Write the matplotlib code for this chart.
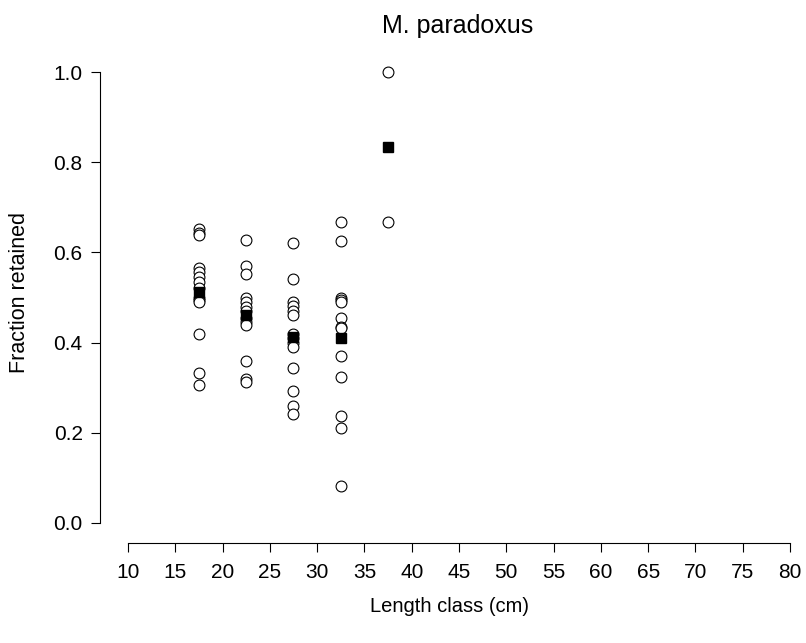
import matplotlib
matplotlib.use("Agg")
import matplotlib.pyplot as plt

# fraction retained per haul, by length class (cm)
len_15_20 = [0.652, 0.643, 0.638, 0.565, 0.556, 0.546, 0.534, 0.52, 0.50, 0.495, 0.49, 0.42, 0.333, 0.306]
len_20_25 = [0.627, 0.570, 0.553, 0.50, 0.49, 0.478, 0.47, 0.455, 0.445, 0.44, 0.36, 0.32, 0.312]
len_25_30 = [0.62, 0.54, 0.49, 0.482, 0.47, 0.462, 0.42, 0.41, 0.40, 0.39, 0.344, 0.293, 0.26, 0.242]
len_30_35 = [0.667, 0.625, 0.50, 0.495, 0.49, 0.455, 0.435, 0.432, 0.37, 0.323, 0.238, 0.21, 0.083]
len_35_40 = [1.0, 0.667]

class_mid = [17.5, 22.5, 27.5, 32.5, 37.5]
class_mean = [0.513, 0.462, 0.413, 0.41, 0.833]
groups = [len_15_20, len_20_25, len_25_30, len_30_35, len_35_40]

xticks = list(range(10, 85, 5))
yticks = [0.0, 0.2, 0.4, 0.6, 0.8, 1.0]

plt.rcParams['font.family'] = ['Liberation Sans', 'DejaVu Sans']

fig = plt.figure(figsize=(8.06, 6.43), dpi=100)
ax = fig.add_axes([100/806, 102/643, 706/806, 487/643])

for xm, vals in zip(class_mid, groups):
    ax.plot([xm]*len(vals), vals, linestyle='none', marker='o', markersize=7.8,
            markerfacecolor='white', markeredgecolor='black', markeredgewidth=0.8)
ax.plot(class_mid, class_mean, linestyle='none', marker='s', markersize=7.5,
        color='black')

ax.set_xlim(10 - 28/9.46, 80 + 16/9.46)
ax.set_ylim(-0.04, 1.04)

for s in ['top', 'right']:
    ax.spines[s].set_visible(False)
ax.spines['bottom'].set_bounds(10, 80)
ax.spines['left'].set_bounds(0, 1)
ax.spines['bottom'].set_position(('outward', 1.5))
ax.spines['bottom'].set_linewidth(0.8)
ax.spines['left'].set_linewidth(0.8)

ax.set_xticks(xticks)
ax.set_xticklabels([str(t) for t in xticks])
ax.set_yticks(yticks)
ax.set_yticklabels(['%.1f' % t for t in yticks])
ax.tick_params(axis='both', direction='out', length=6.5, width=0.8, labelsize=15)
ax.tick_params(axis='x', pad=8)
ax.tick_params(axis='y', pad=6)

ax.set_xlabel('Length class (cm)', fontsize=14.5)
ax.xaxis.set_label_coords((450 - 100)/706, -(607 - 541)/487)
ax.xaxis.label.set_va('center')
ax.set_ylabel('Fraction retained', fontsize=15.5)
ax.yaxis.set_label_coords(-(100 - 20)/706, 0.51)
ax.yaxis.label.set_va('center')
fig.text(458/806, 1 - 26/643, 'M. paradoxus', fontsize=18, ha='center', va='center')

fig.savefig('out.png', dpi=100)
